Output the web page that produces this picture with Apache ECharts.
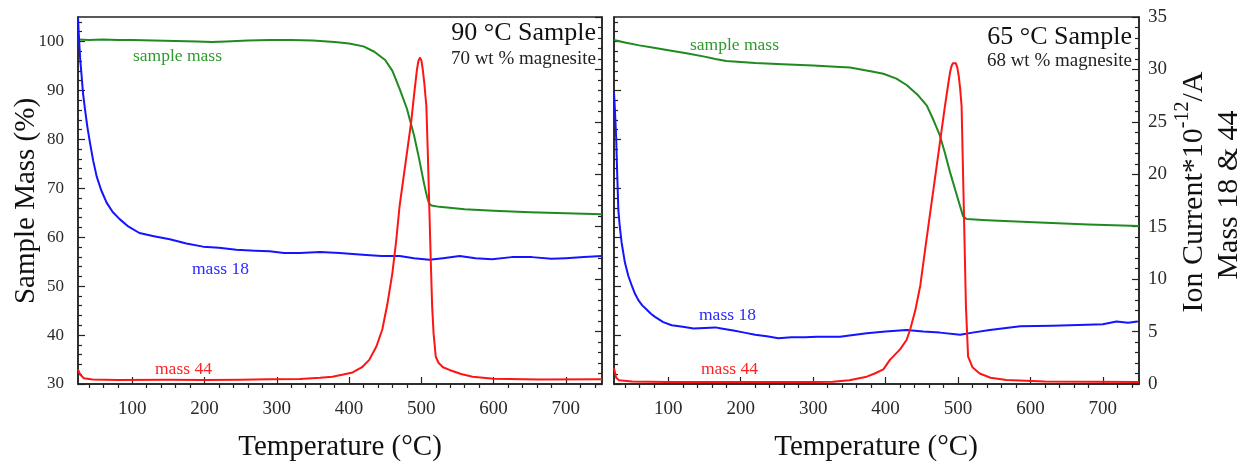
<!DOCTYPE html>
<html><head><meta charset="utf-8">
<script src="https://cdn.jsdelivr.net/npm/echarts@6/dist/echarts.min.js"></script>
<style>html,body{margin:0;padding:0;background:#fff}#c{width:1247px;height:463px}</style>
</head><body><div id="c"></div>
<script>
// ---- tick labels ----
const xTickLabels = [100,200,300,400,500,600,700];
const xMinorTicks = [40,60,80,120,140,160,180,220,240,260,280,320,340,360,380,420,440,460,480,520,540,560,580,620,640,660,680,720,740];
const massTickLabels = [30,40,50,60,70,80,90,100];
const massMinorTicks = [32,34,36,38,42,44,46,48,52,54,56,58,62,64,66,68,72,74,76,78,82,84,86,88,92,94,96,98,102,104];
const ionTickLabels = [0,5,10,15,20,25,30,35];
const ionMinorTicks = [1,2,3,4,6,7,8,9,11,12,13,14,16,17,18,19,21,22,23,24,26,27,28,29,31,32,33,34];

// ---- 90 °C sample (left panel) ----
const massT_90 = [25,40,60,80,100,130,160,190,210,230,260,290,320,350,380,400,420,435,450,460,470,480,490,497,504,508,511,514,525,560,600,650,700,750];
const mass_90  = [100.4,100.3,100.4,100.3,100.3,100.2,100.1,100.0,99.9,100.0,100.2,100.3,100.3,100.2,99.9,99.6,99.0,97.9,96.2,94.0,90.3,86.3,80.8,76.0,70.8,68.2,66.8,66.5,66.2,65.7,65.4,65.1,64.9,64.7];
const m18T_90 = [25,26,28,30,32,34.7,38,41.6,46,50.8,57,64.6,73,83,95,110,130,152,175,198,220,244,270,290,310,332,360,387,405,424,445,470,490,511,530,553,575,598,625,653,680,700,725,750];
const m18_90  = [35.0,33.5,31.0,29.4,27.7,26.2,24.5,23.0,21.3,19.8,18.5,17.3,16.4,15.7,15.0,14.4,14.1,13.8,13.4,13.1,13.0,12.8,12.7,12.65,12.5,12.5,12.6,12.5,12.4,12.3,12.2,12.2,12.0,11.86,12.0,12.2,12.0,11.9,12.1,12.1,11.95,12.0,12.1,12.2];
const m44T_90 = [25,28,33,45,80,150,200,250,290,332,360,377,392,405,418,428,438,446,453,460,465,470,478,486,490,494,496,498,500,502,504,507,509,511,513,515,517,520,524,530,539,555,571,600,663,750];
const m44_90  = [1.4,0.9,0.55,0.42,0.38,0.4,0.38,0.4,0.45,0.48,0.6,0.7,0.9,1.1,1.6,2.3,3.6,5.2,7.6,10.6,13.5,17.0,21.0,25.0,27.6,30.0,30.8,31.1,30.9,30.0,28.8,26.5,22.0,17.0,12.0,7.4,4.8,2.6,2.0,1.6,1.34,0.95,0.7,0.5,0.42,0.45];

// ---- 65 °C sample (right panel) ----
const massT_65 = [25,40,60,80,100,125,150,165,180,200,220,258,300,337,351,383,397,415,429,445,457,466,475,482,489,496,501,507,512,540,613,680,750];
const mass_65  = [100.3,99.8,99.2,98.7,98.2,97.6,96.9,96.4,96.0,95.8,95.6,95.35,95.1,94.8,94.67,93.8,93.4,92.4,91.1,89.0,86.9,84.0,80.8,77.2,73.3,69.8,67.3,64.3,63.7,63.45,63.0,62.6,62.3];
const m18T_65 = [25,26,27,28,29,30,31,33,35.6,40,44.8,50,54,58.6,64,70,76,81.6,93,104.7,120,135,150,165,173,190,205,220,236,252,270,289,305,337,374,400,429,452,475,503,520,544,586,630,678,700,719,735,748];
const m18_65  = [27.8,26.5,25.0,23.5,21.0,18.8,16.6,15.0,13.45,11.6,10.3,9.3,8.6,8.0,7.5,7.1,6.7,6.4,5.9,5.6,5.45,5.3,5.35,5.4,5.3,5.1,4.9,4.7,4.55,4.37,4.45,4.47,4.5,4.5,4.85,5.0,5.16,5.0,4.9,4.7,4.9,5.16,5.5,5.55,5.64,5.7,5.96,5.85,5.96];
const m44T_65 = [25,28,32,50,100,200,300,327,350,374,385,397,406,420,429,434,441,448,455,461,468,475,482,487,489,491,493,495,497,499,501,503,505,508,511,514,520,530,545,567,620,750];
const m44_65  = [1.5,0.6,0.35,0.25,0.2,0.2,0.2,0.22,0.35,0.7,1.0,1.4,2.3,3.3,4.2,5.2,7.0,9.4,13.0,16.0,19.5,23.0,26.5,28.8,29.7,30.3,30.6,30.7,30.6,30.2,29.4,28.2,26.5,17.0,7.4,2.6,1.6,1.0,0.6,0.38,0.25,0.2];

const FONT = "'Liberation Serif','Times New Roman',serif";
const GREEN = '#1f8a1f', BLUE = '#1414ff', RED = '#ff1414';
const zip = (a, b) => a.map((t, i) => [t, b[i]]);

function xAxes(g) {
  return [
    { type:'value', gridIndex:g, min:25, max:750,
      axisLine:{show:true, lineStyle:{color:'#222', width:1.5}},
      axisTick:{show:true, inside:true, length:7, customValues:xTickLabels, lineStyle:{color:'#222', width:1.2}},
      axisLabel:{show:true, customValues:xTickLabels, margin:16, fontSize:19, fontFamily:FONT, color:'#2a2a2a'},
      splitLine:{show:false} },
    { type:'value', gridIndex:g, min:25, max:750,
      axisLine:{show:false},
      axisTick:{show:true, inside:true, length:4, customValues:xMinorTicks, lineStyle:{color:'#222', width:1.2}},
      axisLabel:{show:false}, splitLine:{show:false} }
  ];
}
function yAxes(g, min, max, pos, majors, minors, showLabels, fontSize, margin) {
  return [
    { type:'value', gridIndex:g, min:min, max:max, position:pos,
      axisLine:{show:true, lineStyle:{color:'#222', width:1.5}},
      axisTick:{show:true, inside:true, length:7, customValues:majors, lineStyle:{color:'#222', width:1.2}},
      axisLabel:{show:showLabels, customValues:majors, margin:margin, fontSize:fontSize, fontFamily:FONT, color:'#2a2a2a'},
      splitLine:{show:false} },
    { type:'value', gridIndex:g, min:min, max:max, position:pos,
      axisLine:{show:false},
      axisTick:{show:true, inside:true, length:4, customValues:minors, lineStyle:{color:'#222', width:1.2}},
      axisLabel:{show:false}, splitLine:{show:false} }
  ];
}
function line(name, xi, yi, data, color) {
  return { name:name, type:'line', xAxisIndex:xi, yAxisIndex:yi, data:data, symbol:'none',
    lineStyle:{color:color, width:2, join:'round'}, itemStyle:{color:color}, animation:false, silent:true, clip:true };
}
function txt(text, x, y, size, color, align, extra) {
  return Object.assign({ type:'text', x:x, y:y, silent:true,
    style:{ text:text, font: size + 'px ' + FONT, fill:color, textAlign:align || 'left', textVerticalAlign:'middle' } }, extra || {});
}

const chart = echarts.init(document.getElementById('c'), null, {renderer:'canvas'});
chart.setOption({
  animation:false,
  backgroundColor:'#fff',
  grid:[
    {left:78, right:645, top:17, bottom:79, show:true, borderColor:'#222', borderWidth:1.5, backgroundColor:'transparent'},
    {left:614, right:108, top:17, bottom:79, show:true, borderColor:'#222', borderWidth:1.5, backgroundColor:'transparent'}
  ],
  xAxis: [].concat(xAxes(0), xAxes(1)),
  yAxis: [].concat(
    yAxes(0, 30, 105, 'left', massTickLabels, massMinorTicks, true, 17, 14),   // 0,1
    yAxes(0, 0, 35, 'right', ionTickLabels, ionMinorTicks, false, 19, 9),       // 2,3
    yAxes(1, 30, 105, 'left', massTickLabels, massMinorTicks, false, 17, 14),  // 4,5
    yAxes(1, 0, 35, 'right', ionTickLabels, ionMinorTicks, true, 19, 9)         // 6,7
  ),
  series:[
    line('sample mass 90', 0, 0, zip(massT_90, mass_90), GREEN),
    line('mass 18 90', 0, 2, zip(m18T_90, m18_90), BLUE),
    line('mass 44 90', 0, 2, zip(m44T_90, m44_90), RED),
    line('sample mass 65', 2, 4, zip(massT_65, mass_65), GREEN),
    line('mass 18 65', 2, 6, zip(m18T_65, m18_65), BLUE),
    line('mass 44 65', 2, 6, zip(m44T_65, m44_65), RED)
  ],
  graphic:[
    txt('90 °C Sample', 596, 33, 26, '#111', 'right'),
    txt('70 wt % magnesite', 596, 59, 19, '#222', 'right'),
    txt('65 °C Sample', 1132, 37, 26, '#111', 'right'),
    txt('68 wt % magnesite', 1132, 61, 19, '#222', 'right'),
    txt('sample mass', 133, 56, 17.5, '#2e9a2e'),
    txt('sample mass', 690, 45, 17.5, '#2e9a2e'),
    txt('mass 18', 192, 269, 17.5, '#2a2aff'),
    txt('mass 18', 699, 315, 17.5, '#2a2aff'),
    txt('mass 44', 155, 369, 17.5, '#ff2222'),
    txt('mass 44', 701, 369, 17.5, '#ff2222'),
    txt('Temperature (°C)', 340, 447, 29, '#111', 'center'),
    txt('Temperature (°C)', 876, 447, 29, '#111', 'center'),
    txt('Sample Mass (%)', 26, 201, 29, '#111', 'center', {rotation: Math.PI/2}),
    { type:'text', x:1191, y:192, rotation:Math.PI/2, silent:true,
      style:{ text:'{n|Ion Current*10}{s|-12}{n|/A}', textAlign:'center', textVerticalAlign:'middle', fill:'#111',
        rich:{ n:{font:'30px ' + FONT, lineHeight:36, verticalAlign:'bottom', fill:'#111'},
               s:{font:'20px ' + FONT, lineHeight:20, verticalAlign:'top', fill:'#111'} } } },
    txt('Mass 18 & 44', 1229, 195, 30, '#111', 'center', {rotation: Math.PI/2})
  ]
});
</script></body></html>
